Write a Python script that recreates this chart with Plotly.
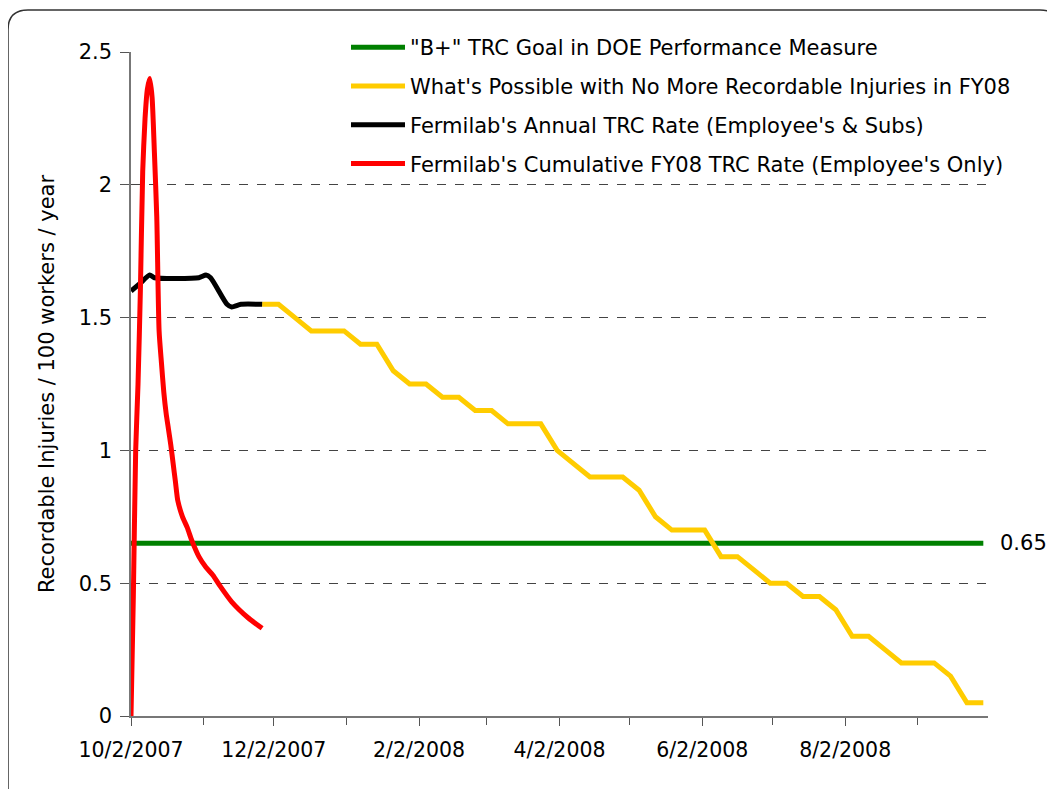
import plotly.graph_objects as go

# ---------------- data ----------------
goal_dates = ["2007-10-02", "2008-09-30"]
goal_values = [0.65, 0.65]

possible_dates = [
    "2007-11-27", "2007-12-04", "2007-12-11", "2007-12-18", "2007-12-25",
    "2008-01-01", "2008-01-08", "2008-01-15", "2008-01-22", "2008-01-29",
    "2008-02-05", "2008-02-12", "2008-02-19", "2008-02-26", "2008-03-04",
    "2008-03-11", "2008-03-18", "2008-03-25", "2008-04-01", "2008-04-08",
    "2008-04-15", "2008-04-22", "2008-04-29", "2008-05-06", "2008-05-13",
    "2008-05-20", "2008-05-27", "2008-06-03", "2008-06-10", "2008-06-17",
    "2008-06-24", "2008-07-01", "2008-07-08", "2008-07-15", "2008-07-22",
    "2008-07-29", "2008-08-05", "2008-08-12", "2008-08-19", "2008-08-26",
    "2008-09-02", "2008-09-09", "2008-09-16", "2008-09-23", "2008-09-30",
]
possible_values = [
    1.55, 1.55, 1.50, 1.45, 1.45,
    1.45, 1.40, 1.40, 1.30, 1.25,
    1.25, 1.20, 1.20, 1.15, 1.15,
    1.10, 1.10, 1.10, 1.00, 0.95,
    0.90, 0.90, 0.90, 0.85, 0.75,
    0.70, 0.70, 0.70, 0.60, 0.60,
    0.55, 0.50, 0.50, 0.45, 0.45,
    0.40, 0.30, 0.30, 0.25, 0.20,
    0.20, 0.20, 0.15, 0.05, 0.05,
]

annual_dates = [
    "2007-10-02", "2007-10-06", "2007-10-10", "2007-10-12", "2007-10-31",
    "2007-11-03", "2007-11-05", "2007-11-12", "2007-11-14", "2007-11-18",
    "2007-11-27",
]
annual_values = [1.60, 1.63, 1.66, 1.65, 1.65, 1.66, 1.65, 1.55, 1.54, 1.55, 1.55]

cumulative_dates = [
    "2007-10-02", "2007-10-03", "2007-10-04", "2007-10-05", "2007-10-06",
    "2007-10-07", "2007-10-08", "2007-10-09", "2007-10-10", "2007-10-11",
    "2007-10-12", "2007-10-13", "2007-10-14", "2007-10-15", "2007-10-16",
    "2007-10-17", "2007-10-18", "2007-10-19", "2007-10-20", "2007-10-21",
    "2007-10-22", "2007-10-24", "2007-10-26", "2007-10-28", "2007-10-31",
    "2007-11-03", "2007-11-06", "2007-11-09", "2007-11-14", "2007-11-21",
    "2007-11-27",
]
cumulative_values = [
    0.00, 0.45, 1.00, 1.25, 1.60,
    2.05, 2.25, 2.36, 2.40, 2.33,
    2.12, 1.88, 1.45, 1.33, 1.22,
    1.14, 1.08, 1.02, 0.95, 0.88,
    0.81, 0.75, 0.71, 0.66, 0.60,
    0.56, 0.53, 0.49, 0.43, 0.37,
    0.33,
]

series_names = [
    '"B+" TRC Goal in DOE Performance Measure',
    "What's Possible with No More Recordable Injuries in FY08",
    "Fermilab's Annual TRC Rate (Employee's & Subs)",
    "Fermilab's Cumulative FY08 TRC Rate (Employee's Only)",
]
series_colors = ["#008000", "#FFCC00", "#000000", "#FF0000"]

label_ticks = ["2007-10-02", "2007-12-02", "2008-02-02", "2008-04-02", "2008-06-02", "2008-08-02"]
minor_ticks = ["2007-11-02", "2008-01-02", "2008-03-02", "2008-05-02", "2008-07-02", "2008-09-02"]
x_range = ["2007-10-02", "2008-10-02"]
y_ticks = [0, 0.5, 1, 1.5, 2, 2.5]
y_tick_text = ["0", "0.5", "1", "1.5", "2", "2.5"]

FONT = "DejaVu Sans"

fig = go.Figure()
all_x = [goal_dates, possible_dates, annual_dates, cumulative_dates]
all_y = [goal_values, possible_values, annual_values, cumulative_values]
shapes_ = ["linear", "linear", "spline", "spline"]
for i in range(4):
    fig.add_trace(go.Scatter(
        x=all_x[i], y=all_y[i], mode="lines", name=series_names[i],
        legendgroup=f"g{i}",
        line=dict(color=series_colors[i], width=5, shape=shapes_[i], smoothing=0.6),
    ))

# the page has an 8px body margin; work in screen pixels and convert
OFF = 8
W, H = 1047, 781
L, R, T, B = 131 - OFF, 988 - OFF, 52 - OFF, 716 - OFF


def px(x):
    return (x - OFF - L) / (R - L)


def py(y):
    return (B - (y - OFF)) / (B - T)


border = (
    f"M {px(8)},{py(820)} L {px(8)},{py(30)} Q {px(8)},{py(10)} {px(28)},{py(10)} "
    f"L {px(1040)},{py(10)} Q {px(1062)},{py(10)} {px(1062)},{py(32)} L {px(1062)},{py(820)}"
)

fig.update_layout(
    width=W, height=H,
    margin=dict(l=L, r=W - R, t=T, b=H - B),
    paper_bgcolor="white", plot_bgcolor="white",
    font=dict(family=FONT, color="black", size=20),
    showlegend=True,
    legend=dict(
        x=px(346), y=py(27), xanchor="left", yanchor="top",
        bgcolor="white", borderwidth=0,
        font=dict(family=FONT, size=21, color="black"),
        traceorder="grouped", tracegroupgap=8.5,
        itemwidth=54,
    ),
    xaxis=dict(
        type="date", range=x_range,
        tickvals=label_ticks, tickformat="%-m/%-d/%Y",
        ticks="outside", ticklen=8, tickcolor="#555", tickwidth=1,
        minor=dict(tickvals=minor_ticks, ticks="outside", ticklen=7, tickcolor="#555", showgrid=False),
        showline=True, linecolor="#777", linewidth=1.5,
        showgrid=False, zeroline=False,
        ticklabelstandoff=7,
        tickfont=dict(family=FONT, size=20.5, color="black"),
    ),
    yaxis=dict(
        range=[0, 2.5], tickvals=y_ticks, ticktext=y_tick_text,
        ticks="outside", ticklen=9, tickcolor="#555",
        showline=True, linecolor="#777", linewidth=1.5,
        showgrid=True, gridcolor="#444", griddash="dash", gridwidth=1,
        zeroline=False,
        ticklabelstandoff=4,
        tickfont=dict(family=FONT, size=21, color="black"),
        title=dict(text="Recordable Injuries / 100 workers / year",
                   font=dict(family=FONT, size=21, color="black"), standoff=18),
    ),
    shapes=[dict(type="path", xref="paper", yref="paper", path=border,
                 line=dict(color="#333", width=1.5), layer="below")],
    annotations=[dict(
        x=goal_dates[-1], y=goal_values[-1], xref="x", yref="y",
        text=f"{goal_values[-1]:.2f}", showarrow=False, xanchor="left", yanchor="middle",
        xshift=15, font=dict(family=FONT, size=21, color="black"),
    )],
)

fig.write_html("out.html")
